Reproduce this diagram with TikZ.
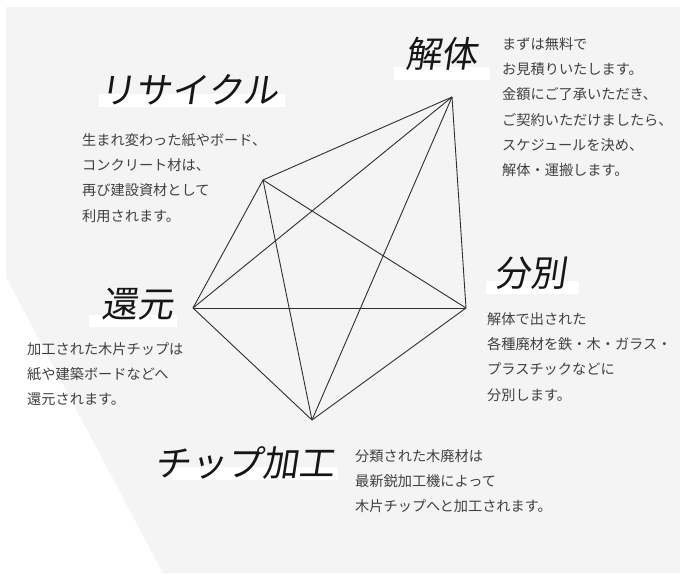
\documentclass[tikz,border=0pt]{standalone}
\usepackage{fontspec}
\newfontfamily\jp{Noto Sans CJK JP}
\newfontfamily\jphand[FakeSlant=0.15]{Noto Sans CJK JP}
\definecolor{bggray}{HTML}{F4F4F4}
\definecolor{linegray}{HTML}{2E2E2E}
\definecolor{textgray}{HTML}{404040}
\definecolor{titleink}{HTML}{161616}
\tikzset{
  edge/.style={draw=linegray, line width=0.9pt, line join=round},
  bodytext/.style={anchor=north west, inner sep=0pt, align=left, text=textgray,
    font={\jp\fontsize{14.2}{25.3}\selectfont}},
  titletext/.style={inner sep=0pt, text=titleink, font={\jphand\fontsize{36}{40}\selectfont}},
  hlbar/.style={fill=white, draw=none}
}
\begin{document}
\begin{tikzpicture}[x=1pt,y=-1pt]
\useasboundingbox (0,0) rectangle (680,573);
\fill[white] (0,0) rectangle (680,573);
\fill[bggray] (6,7) -- (680,7) -- (680,573) -- (163,573) -- (6,277) -- cycle;

% highlight bars
\fill[hlbar] (394,67) rectangle (490,80);
\fill[hlbar] (99,94) rectangle (285,107);
\fill[hlbar] (89,315) rectangle (177,327);
\fill[hlbar] (486,281) rectangle (579,294);
\fill[hlbar] (172,467) rectangle (338,480);

% titles
\node[titletext] (tkai) at (441,54) {解体};
\node[titletext] (trec) at (189,90) {リサイクル};
\node[titletext] (tkan) at (137,304) {還元};
\node[titletext] (tbun) at (530,273) {分別};
\node[titletext] (tchip) at (244,463) {チップ加工};

% vertices
\coordinate (kai) at (452,97);
\coordinate (rec) at (263,180);
\coordinate (kan) at (193,308);
\coordinate (bun) at (466,308);
\coordinate (chip) at (312,420);

\foreach \a/\b in {kai/rec, kai/kan, kai/bun, kai/chip, rec/kan, rec/bun, rec/chip, kan/bun, kan/chip, bun/chip}
  \draw[edge] (\a) -- (\b);

% body texts
\node[bodytext] (bkai) at (502,37) {まずは無料で\\お見積りいたします。\\金額にご了承いただき、\\ご契約いただけましたら、\\スケジュールを決め、\\解体・運搬します。};
\node[bodytext] (brec) at (82,133) {生まれ変わった紙やボード、\\コンクリート材は、\\再び建設資材として\\利用されます。};
\node[bodytext] (bkan) at (27,342) {加工された木片チップは\\紙や建築ボードなどへ\\還元されます。};
\node[bodytext] (bbun) at (487,312) {解体で出された\\各種廃材を鉄・木・ガラス・\\プラスチックなどに\\分別します。};
\node[bodytext] (bchip) at (355,449) {分類された木廃材は\\最新鋭加工機によって\\木片チップへと加工されます。};
\end{tikzpicture}
\end{document}
